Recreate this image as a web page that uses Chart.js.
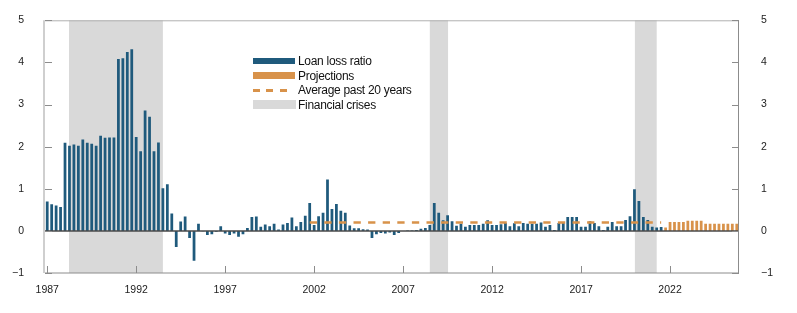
<!DOCTYPE html>
<html>
<head>
<meta charset="utf-8">
<script src="https://cdn.jsdelivr.net/npm/chart.js@4"></script>
<style>
    body { margin: 0; background: #fff; }
    #wrap { position: relative; width: 797px; height: 313px; }
    .legend { position: absolute; left: 253px; top: 54px; font: 12px "Liberation Sans", Arial, sans-serif; letter-spacing: -0.3px; color: #111; }
    .row { position: relative; height: 14.7px; line-height: 14.7px; padding-left: 45px; white-space: nowrap; }
    .sw { position: absolute; left: 0; }
</style>
</head>
<body>
<div id="wrap">
    <canvas id="lossChart"></canvas>
    <div class="legend">
        <div class="row"><span class="sw" style="top:4px;width:42px;height:6px;background:#1f5a7c"></span>Loan loss ratio</div>
        <div class="row"><span class="sw" style="top:3.5px;width:42px;height:7px;background:#d8924a"></span>Projections</div>
        <div class="row"><span class="sw" style="top:5.5px;width:40px;height:3px;background:repeating-linear-gradient(90deg,#d8924a 0 7px,transparent 7px 13.5px)"></span>Average past 20 years</div>
        <div class="row"><span class="sw" style="top:2px;width:43px;height:9px;background:#d9d9d9"></span>Financial crises</div>
    </div>
</div>
<script>
// Quarterly categories 1987 Q1 - 2025 Q4
const quarters = [];
for (let y = 1987; y <= 2025; y++) {
    for (let q = 1; q <= 4; q++) quarters.push(y + ' Q' + q);
}
const tickYears = ['1987', '1992', '1997', '2002', '2007', '2012', '2017', '2022'];

// Loan loss ratio, 1987 Q1 - 2021 Q3 (percent)
const loanLoss = [
    0.70, 0.63, 0.60, 0.57, 2.09, 2.02, 2.05, 2.02, 2.17, 2.09, 2.07, 2.02, 2.26, 2.21, 2.22, 2.22,
    4.08, 4.10, 4.25, 4.31, 2.23, 1.89, 2.86, 2.71, 1.89, 2.10, 1.01, 1.11, 0.41, -0.38,
    0.22, 0.34, -0.17, -0.71, 0.17, -0.01, -0.10, -0.08, -0.02, 0.11, -0.06, -0.10, -0.06, -0.14, -0.08, 0.07,
    0.33, 0.34, 0.10, 0.15, 0.11, 0.17, 0.03, 0.15, 0.19, 0.32, 0.11, 0.21, 0.36, 0.66, 0.14, 0.35,
    0.43, 1.22, 0.52, 0.64, 0.48, 0.43, 0.13, 0.06, 0.06, 0.04, 0.03, -0.17, -0.08, -0.05, -0.06, -0.04,
    -0.10, -0.05, 0.00, 0.01, 0.01, 0.02, 0.05, 0.07, 0.14, 0.66, 0.43, 0.25, 0.37,
    0.23, 0.12, 0.17, 0.10, 0.14, 0.14, 0.14, 0.17, 0.25, 0.14, 0.14, 0.16, 0.19, 0.11, 0.18, 0.11,
    0.19, 0.17, 0.17, 0.17, 0.20, 0.10, 0.14, 0.02, 0.19, 0.19, 0.33, 0.33, 0.33,
    0.10, 0.10, 0.23, 0.19, 0.11, 0.02, 0.10, 0.21, 0.11, 0.11, 0.26, 0.35, 0.99, 0.71, 0.33, 0.26,
    0.10, 0.08, 0.09
];

// Projections, 2021 Q4 - 2025 Q4
const projFrom = '2021 Q4';
const projections = [
    0.08, 0.21, 0.21, 0.21, 0.21, 0.24, 0.24, 0.24, 0.24,
    0.17, 0.17, 0.17, 0.17, 0.17, 0.17, 0.17, 0.17
];

// Average past 20 years (flat line)
const avgFrom = '2001 Q4';
const avgTo = '2021 Q3';
const avgPast20 = [0.2, 0.2];

// Financial crises, as positions on the quarter axis
const crisisStart = [4.9, 86.0, 132.1];
const crisisEnd = [26.0, 90.1, 137.0];

const projIndex = quarters.indexOf(projFrom);
const lossData = quarters.map((q, i) => i < loanLoss.length ? loanLoss[i] : null);
const projData = quarters.map((q, i) => i >= projIndex ? projections[i - projIndex] : null);
const avgData = quarters.map(q => q === avgFrom ? avgPast20[0] : (q === avgTo ? avgPast20[1] : null));

const fontFamily = '"Liberation Sans", Arial, sans-serif';

// Grey bands, zero line, frame and inward ticks
const decorPlugin = {
    id: 'decor',
    beforeDatasetsDraw(chart) {
        const { ctx, chartArea: a, scales: { x } } = chart;
        ctx.save();
        ctx.fillStyle = '#d9d9d9';
        crisisStart.forEach((s, i) => {
            const x0 = x.getPixelForValue(s);
            const x1 = x.getPixelForValue(crisisEnd[i]);
            ctx.fillRect(x0, a.top, x1 - x0, a.bottom - a.top);
        });
        ctx.restore();
    },
    afterDatasetsDraw(chart) {
        const { ctx, chartArea: a, scales: { x, y } } = chart;
        ctx.save();
        // zero line
        const y0 = y.getPixelForValue(0);
        ctx.strokeStyle = '#4a4a4a';
        ctx.lineWidth = 1.5;
        ctx.beginPath();
        ctx.moveTo(a.left, y0);
        ctx.lineTo(a.right, y0);
        ctx.stroke();

        // frame
        ctx.lineWidth = 1;
        ctx.strokeStyle = '#b0b0b0';
        ctx.beginPath();
        ctx.moveTo(a.left, a.top + 0.5);
        ctx.lineTo(a.right, a.top + 0.5);
        ctx.stroke();
        ctx.strokeStyle = '#8c8c8c';
        ctx.beginPath();
        ctx.moveTo(a.left, a.bottom);
        ctx.lineTo(a.right, a.bottom);
        ctx.moveTo(a.right - 0.5, a.top);
        ctx.lineTo(a.right - 0.5, a.bottom);
        ctx.stroke();
        ctx.strokeStyle = '#cfcfcf';
        ctx.lineWidth = 2;
        ctx.beginPath();
        ctx.moveTo(a.left - 1, a.top);
        ctx.lineTo(a.left - 1, a.bottom);
        ctx.stroke();

        // inward tick marks
        ctx.lineWidth = 1;
        ctx.strokeStyle = '#8c8c8c';
        ctx.beginPath();
        y.ticks.forEach(t => {
            const py = Math.round(y.getPixelForValue(t.value)) + 0.5;
            ctx.moveTo(a.left, py);
            ctx.lineTo(a.left + 7, py);
            ctx.moveTo(a.right, py);
            ctx.lineTo(a.right - 7, py);
        });
        quarters.forEach((q, i) => {
            const [yr, qq] = q.split(' ');
            if (qq === 'Q1' && tickYears.includes(yr)) {
                const px = Math.round(x.getPixelForValue(i)) + 0.5;
                ctx.moveTo(px, a.bottom);
                ctx.lineTo(px, a.bottom - 7);
            }
        });
        ctx.stroke();
        ctx.restore();
    }
};

new Chart(document.getElementById('lossChart'), {
    data: {
        labels: quarters,
        datasets: [
            {
                type: 'line',
                label: 'Average past 20 years',
                data: avgData,
                borderColor: '#d8924a',
                borderWidth: 2.5,
                borderDash: [7.3, 7.3],
                pointRadius: 0,
                spanGaps: true,
                order: 0
            },
            {
                type: 'bar',
                label: 'Loan loss ratio',
                data: lossData,
                backgroundColor: '#1f5a7c',
                grouped: false,
                barPercentage: 0.62,
                categoryPercentage: 1,
                order: 1
            },
            {
                type: 'bar',
                label: 'Projections',
                data: projData,
                backgroundColor: '#d8924a',
                grouped: false,
                barPercentage: 0.62,
                categoryPercentage: 1,
                order: 1
            }
        ]
    },
    options: {
        responsive: true,
        maintainAspectRatio: false,
        animation: false,
        layout: { padding: { top: 8, left: 0, right: 0, bottom: 0 } },
        plugins: {
            legend: { display: false },
            tooltip: { enabled: false }
        },
        scales: {
            x: {
                offset: true,
                grid: { display: false },
                border: { display: false },
                afterFit: (scale) => { scale.height = 40; },
                ticks: {
                    autoSkip: false,
                    maxRotation: 0,
                    padding: 3,
                    color: '#222',
                    font: { family: fontFamily, size: 10.5 },
                    callback: (val, i) => {
                        const [yr, qq] = quarters[i].split(' ');
                        return (qq === 'Q1' && tickYears.includes(yr)) ? yr : '';
                    }
                }
            },
            y: {
                position: 'left',
                min: -1,
                max: 5,
                grid: { display: false },
                border: { display: false },
                afterFit: (scale) => { scale.width = 45; },
                ticks: {
                    stepSize: 1,
                    padding: 13,
                    color: '#222',
                    font: { family: fontFamily, size: 10.5 },
                    callback: (v) => v < 0 ? '\u2212' + Math.abs(v) : v
                }
            },
            y2: {
                position: 'right',
                min: -1,
                max: 5,
                grid: { display: false },
                border: { display: false },
                afterFit: (scale) => { scale.width = 58; },
                ticks: {
                    stepSize: 1,
                    padding: 14,
                    color: '#222',
                    font: { family: fontFamily, size: 10.5 },
                    callback: (v) => v < 0 ? '\u2212' + Math.abs(v) : v
                }
            }
        }
    },
    plugins: [decorPlugin]
});
</script>
</body>
</html>
